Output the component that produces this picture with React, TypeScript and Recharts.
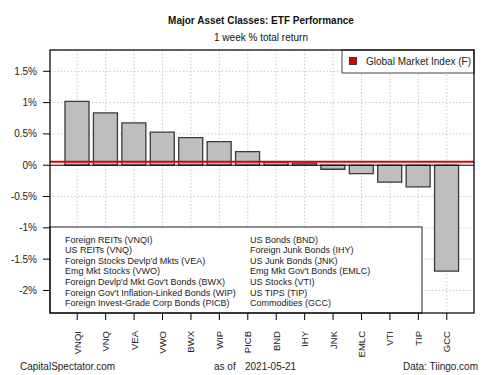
import React from 'react';
import { BarChart, Bar, XAxis, YAxis, CartesianGrid, ReferenceLine } from 'recharts';

const tickers = ['VNQI', 'VNQ', 'VEA', 'VWO', 'BWX', 'WIP', 'PICB', 'BND', 'IHY', 'JNK', 'EMLC', 'VTI', 'TIP', 'GCC'];
const returns = [1.02, 0.835, 0.675, 0.527, 0.44, 0.377, 0.217, 0.048, 0.032, -0.064, -0.134, -0.27, -0.347, -1.69];
const names = [
  'Foreign REITs (VNQI)',
  'US REITs (VNQ)',
  "Foreign Stocks Devlp'd Mkts (VEA)",
  'Emg Mkt Stocks (VWO)',
  "Foreign Devlp'd Mkt Gov't Bonds (BWX)",
  "Foreign Gov't Inflation-Linked Bonds (WIP)",
  'Foreign Invest-Grade Corp Bonds (PICB)',
  'US Bonds (BND)',
  'Foreign Junk Bonds (IHY)',
  'US Junk Bonds (JNK)',
  "Emg Mkt Gov't Bonds (EMLC)",
  'US Stocks (VTI)',
  'US TIPS (TIP)',
  'Commodities (GCC)',
];
const globalMarketIndex = 0.057;
const yTicks = [-2, -1.5, -1, -0.5, 0, 0.5, 1, 1.5];

const data = tickers.map((t, i) => ({ ticker: t, value: returns[i] }));

const FONT = '"Liberation Sans", Arial, sans-serif';

const XTick = (props: any) => {
  const { x, y, payload } = props;
  return (
    <text
      x={x}
      y={y + 9}
      transform={`rotate(-90, ${x}, ${y + 9})`}
      textAnchor="end"
      dy={3.5}
      fontSize={9.5}
      fill="#222"
      fontFamily={FONT}
    >
      {payload.value}
    </text>
  );
};

export default function App() {
  const left = names.slice(0, 7);
  const right = names.slice(7);
  return (
    <div style={{ position: 'absolute', left: 0, top: 0, width: 500, height: 375, background: '#fff', fontFamily: FONT }}>
      <BarChart
        width={500}
        height={375}
        data={data}
        margin={{ top: 50, right: 26, bottom: 0, left: 0 }}
        barSize={24}
      >
        <CartesianGrid stroke="#c8c8c8" strokeDasharray="1.5 2" />
        <XAxis
          dataKey="ticker"
          height={62}
          padding={{ left: 13, right: 13 }}
          tick={<XTick />}
          tickSize={7}
          tickLine={{ stroke: '#000' }}
          axisLine={false}
          interval={0}
        />
        <YAxis
          width={50}
          domain={[-2.36, 1.84]}
          ticks={yTicks}
          allowDataOverflow
          tickFormatter={(v: number) => `${v}%`}
          tick={{ fontSize: 10, fill: '#222', fontFamily: FONT }}
          tickSize={7}
          tickMargin={6}
          tickLine={{ stroke: '#000' }}
          axisLine={false}
        />
        <Bar dataKey="value" fill="#bebebe" stroke="#3a3a3a" strokeWidth={1.3} isAnimationActive={false} />
        <ReferenceLine y={0} stroke="#000" strokeWidth={1} />
        <ReferenceLine y={globalMarketIndex} stroke="#e00000" strokeWidth={2} />
      </BarChart>
      <svg width={500} height={375} style={{ position: 'absolute', left: 0, top: 0, pointerEvents: 'none' }}>
        <text x={261} y={24} textAnchor="middle" fontSize={10} fontWeight="bold" fill="#111">
          Major Asset Classes: ETF Performance
        </text>
        <text x={261} y={41} textAnchor="middle" fontSize={10} fill="#111">
          1 week % total return
        </text>
        {/* bottom-left ticker legend */}
        <rect x={50} y={227} width={372} height={86} fill="#fff" stroke="#444" strokeWidth={1.2} />
        {left.map((n, i) => (
          <text key={n} x={65} y={242.6 + i * 10.6} fontSize={9} fill="#222">
            {n}
          </text>
        ))}
        {right.map((n, i) => (
          <text key={n} x={250} y={242.6 + i * 10.6} fontSize={9} fill="#222">
            {n}
          </text>
        ))}
        {/* top-right legend */}
        <rect x={342} y={50} width={132} height={23} fill="#fff" stroke="#444" strokeWidth={1} />
        <rect x={349.5} y={57.5} width={7} height={7} fill="#e00000" stroke="#222" strokeWidth={0.8} />
        <text x={366} y={65} fontSize={10} fill="#222">
          Global Market Index (F)
        </text>
        {/* plot frame */}
        <rect x={50} y={50} width={424} height={263} fill="none" stroke="#000" strokeWidth={1.2} />
        <text x={20} y={370} fontSize={10} fill="#222">CapitalSpectator.com</text>
        <text x={214} y={370} fontSize={10} fill="#222">as of</text>
        <text x={245} y={370} fontSize={10} fill="#222">2021-05-21</text>
        <text x={478} y={370} textAnchor="end" fontSize={10} fill="#222">Data: Tiingo.com</text>
      </svg>
    </div>
  );
}
